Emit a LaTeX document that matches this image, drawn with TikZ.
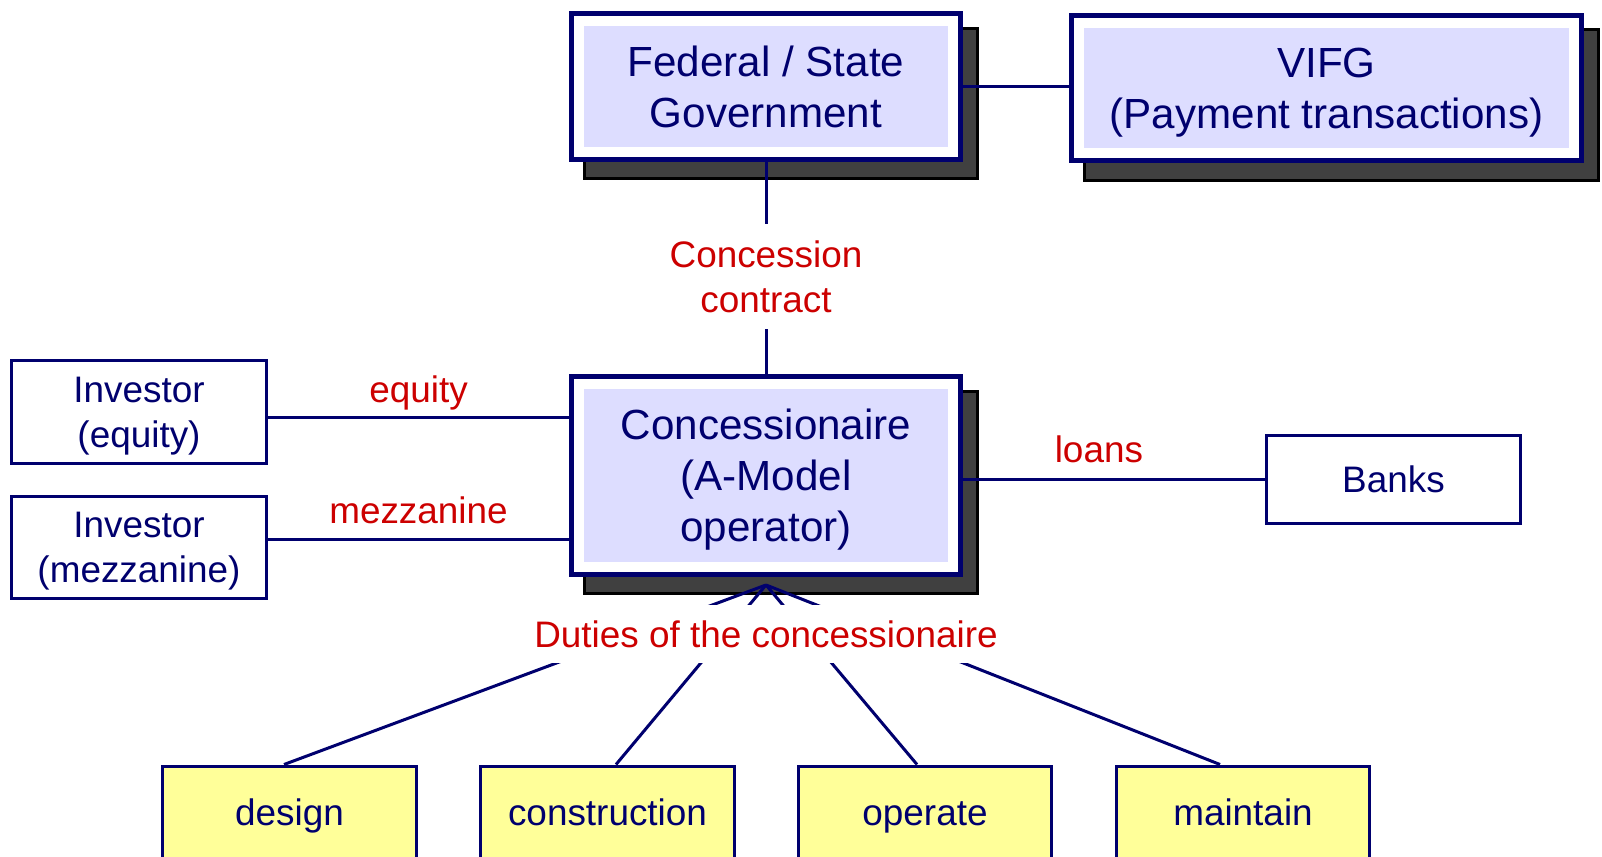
\documentclass[tikz,border=0pt]{standalone}
\usepackage{fontspec}
\setmainfont{Liberation Sans}
\usetikzlibrary{calc, backgrounds}

\definecolor{navy}{RGB}{0,0,110}
\definecolor{lblred}{RGB}{204,0,0}
\definecolor{lavender}{RGB}{221,221,255}
\definecolor{paleyellow}{RGB}{255,255,153}
\definecolor{shadowgray}{RGB}{64,64,64}

\tikzset{
    bigbox/.style={draw=navy, line width=0.1cm, fill=white, align=center, text=navy,
        minimum width=7.78cm, minimum height=2.92cm, font=\fontsize{24}{29}\selectfont,
        path picture={\fill[lavender] ([shift={(0.25cm,0.25cm)}]path picture bounding box.south west)
            rectangle ([shift={(-0.25cm,-0.25cm)}]path picture bounding box.north east);}},
    smallbox/.style={draw=navy, line width=0.06cm, fill=white, align=center, text=navy, text depth=0pt,
        minimum width=5.1cm, minimum height=2.06cm, font=\fontsize{21}{25.5}\selectfont},
    dutybox/.style={smallbox, fill=paleyellow, minimum width=5.08cm, minimum height=2cm,
        text height=15pt, text depth=4.4pt},
    boxshadow/.style={fill=shadowgray, draw=black, line width=0.06cm},
    link/.style={draw=navy, line width=0.06cm},
    lbl/.style={text=lblred, align=center, font=\fontsize{21}{25.5}\selectfont},
    flowlbl/.style={lbl, above, text depth=4.4pt}
}

\begin{document}
\begin{tikzpicture}[x=0.02cm, y=-0.02cm]
    \useasboundingbox (0,0) rectangle (1602,857);

    % Government side
    \node[bigbox] (gov) at (766,86.5) {Federal / State\\Government};
    \node[bigbox, minimum width=10.2cm, text depth=0pt] (vifg) at (1326.5,88) {VIFG\\(Payment transactions)};

    % Concessionaire
    \node[bigbox, minimum height=3.96cm, text depth=0pt] (conc) at (766,475.5) {Concessionaire\\(A-Model\\operator)};

    % Investors and banks
    \node[smallbox] (inveq) at (139,412) {Investor\\(equity)};
    \node[smallbox] (invmz) at (139,547.5) {Investor\\(mezzanine)};
    \node[smallbox, minimum width=5.08cm, minimum height=1.76cm] (banks) at (1393.5,479.5) {Banks};

    % Duties
    \node[dutybox] (design) at (289.5,816) {design};
    \node[dutybox] (construction) at (607.5,816) {construction};
    \node[dutybox] (operate) at (925,816) {operate};
    \node[dutybox] (maintain) at (1243,816) {maintain};

    % Shadows
    \begin{scope}[on background layer]
        \foreach \b in {gov, vifg, conc}
            \draw[boxshadow] ([shift={(0.3cm,-0.34cm)}]\b.south west) rectangle ([shift={(0.3cm,-0.34cm)}]\b.north east);
    \end{scope}

    % Connections
    \draw[link] (gov) -- (gov -| vifg.west);
    \draw[link] (gov) -- node[lbl, fill=white, pos=0.54, inner ysep=0.33cm] {Concession\\contract} (conc);

    \coordinate (eq) at ([yshift=-0.12cm]inveq.east);
    \coordinate (mz) at ([yshift=0.17cm]invmz.east);
    \draw[link] (eq) -- node[flowlbl] {equity} (eq -| conc.west);
    \draw[link] (mz) -- node[flowlbl] {mezzanine} (mz -| conc.west);
    \draw[link] (banks.west -| conc.east) -- node[flowlbl, pos=0.45, yshift=0.04cm] {loans} (banks.west);

    \coordinate (hub) at ([yshift=-0.16cm]conc.south);
    \foreach \b/\s in {design/-0.11, construction/0.17, operate/-0.16, maintain/-0.46}
        \draw[link] ([xshift=\s cm]\b.north) -- (hub);
    \node[lbl, fill=white, inner ysep=0.31cm, inner xsep=0.1cm] (duties) at (766,634) {Duties of the concessionaire};

\end{tikzpicture}
\end{document}
